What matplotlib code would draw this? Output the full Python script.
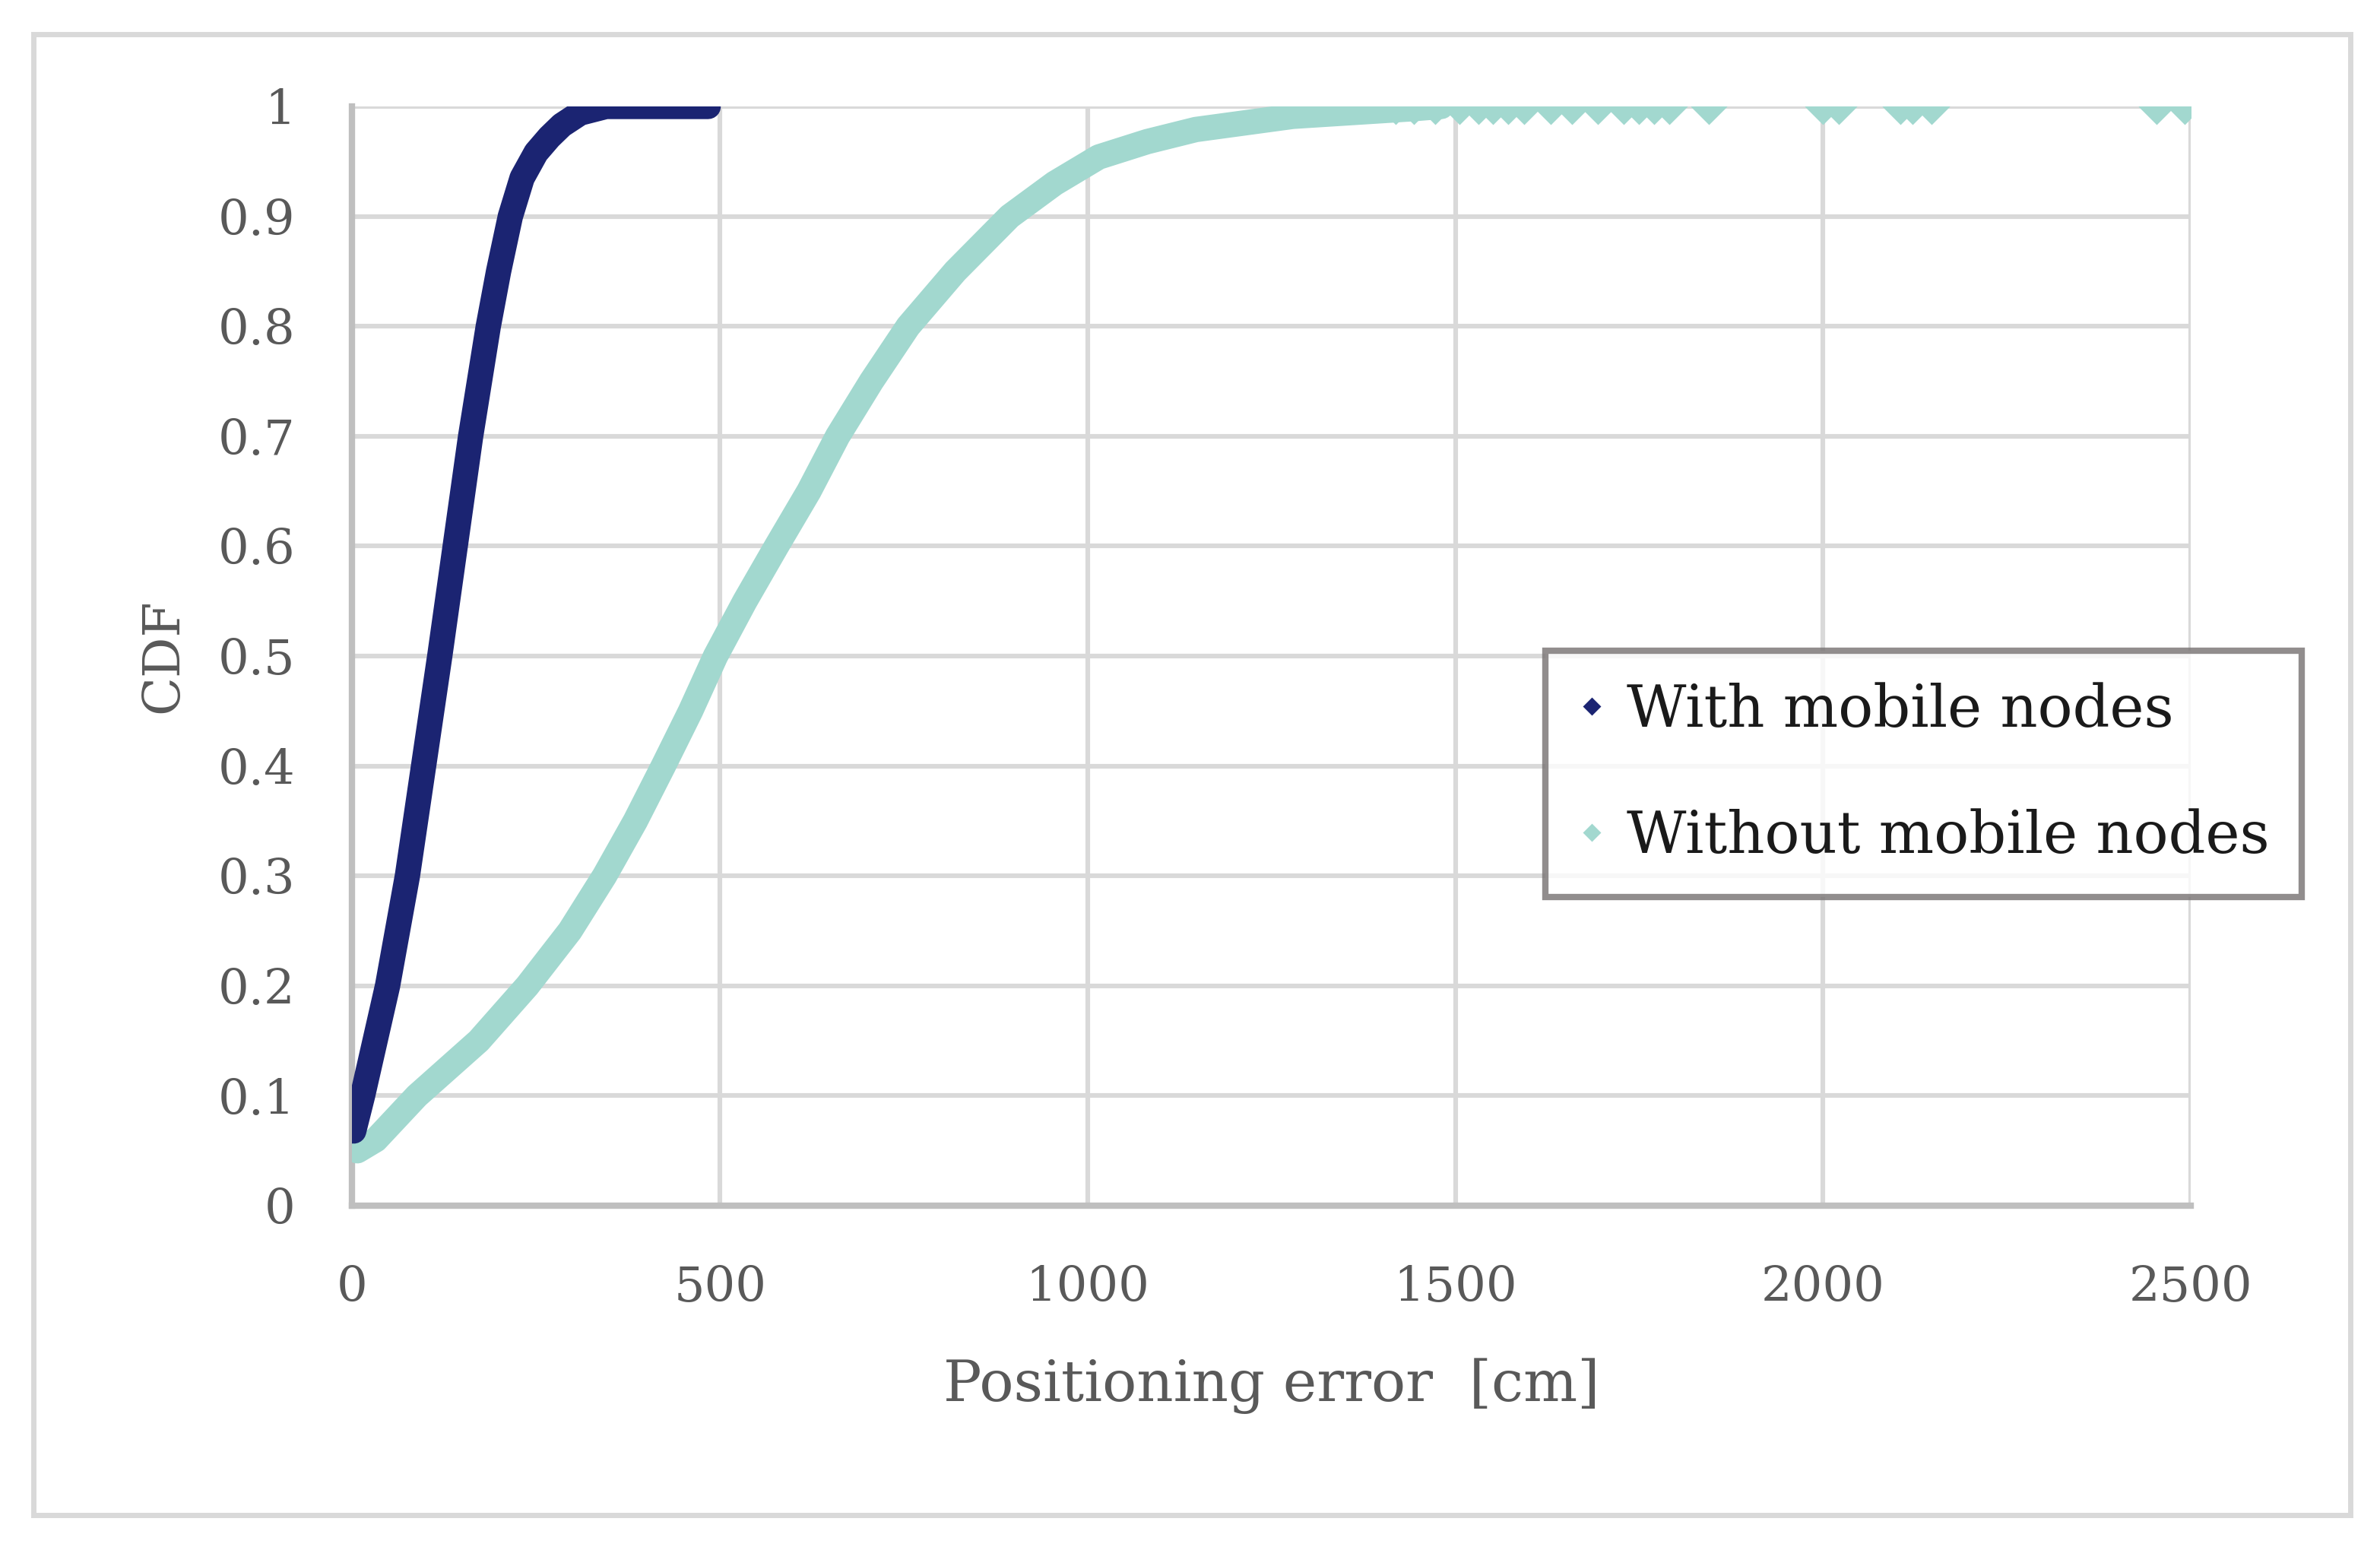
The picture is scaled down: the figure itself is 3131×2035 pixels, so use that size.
import matplotlib
matplotlib.use("Agg")
import matplotlib.pyplot as plt
from matplotlib.lines import Line2D
from matplotlib.patches import Rectangle

with_x = [2, 14, 48, 75, 97, 119, 140, 161, 185, 199, 215, 231, 250, 268, 285, 310, 345, 420, 484]
with_y = [0.068, 0.10, 0.20, 0.30, 0.40, 0.50, 0.60, 0.70, 0.80, 0.85, 0.90, 0.935, 0.958,
          0.972, 0.983, 0.994, 1.0, 1.0, 1.0]

without_x = [7, 32, 88, 172, 238, 296, 343, 385, 423, 460, 494, 534, 577, 621, 660, 706, 756,
             820, 894, 955, 1015, 1081, 1147, 1279, 1444, 1481]
without_y = [0.05, 0.06, 0.10, 0.15, 0.20, 0.25, 0.30, 0.35, 0.40, 0.45, 0.50, 0.55, 0.60,
             0.65, 0.70, 0.75, 0.80, 0.85, 0.90, 0.93, 0.954, 0.968, 0.979, 0.991, 0.998, 1.0]

# sparse tail points of the second series
tail_x = [1419, 1444, 1473, 1506, 1531, 1551, 1572, 1593, 1630, 1659, 1694, 1729, 1750, 1770,
          1791, 1845, 2000, 2021, 2105, 2122, 2147, 2453, 2492]
tail_y = [1.0] * len(tail_x)

xticks = [0, 500, 1000, 1500, 2000, 2500]
yticks = [0, 0.1, 0.2, 0.3, 0.4, 0.5, 0.6, 0.7, 0.8, 0.9, 1]
ytick_labels = ["0", "0.1", "0.2", "0.3", "0.4", "0.5", "0.6", "0.7", "0.8", "0.9", "1"]

navy = "#1b2472"
teal = "#a2d8cf"
txt = "#595959"

plt.rcParams["font.family"] = ["DejaVu Serif"]

fig = plt.figure(figsize=(15.655, 10.175), dpi=200)
ax = fig.add_axes([0.148, 0.2206, 0.7725, 0.7106])

ax.plot(without_x, without_y, color=teal, lw=12, solid_capstyle="round",
        solid_joinstyle="round", zorder=3)
ax.plot(tail_x, tail_y, "D", color=teal, ms=11, lw=0, zorder=3)
ax.plot(with_x, with_y, color=navy, lw=12, solid_capstyle="round",
        solid_joinstyle="round", zorder=4)

ax.set_xlim(0, 2500)
ax.set_ylim(0, 1)
ax.set_xticks(xticks)
ax.set_yticks(yticks)
ax.set_yticklabels(ytick_labels)
ax.grid(color="#d9d9d9", lw=2.2)
ax.set_axisbelow(True)
for s in ["top", "right"]:
    ax.spines[s].set_visible(False)
for s in ["left", "bottom"]:
    ax.spines[s].set_color("#bfbfbf")
    ax.spines[s].set_linewidth(3)
ax.tick_params(length=0, labelsize=23, labelcolor=txt)
ax.tick_params(axis="y", pad=27)
ax.tick_params(axis="x", pad=28)

ax.set_xlabel("Positioning error  [cm]", fontsize=27, color=txt, labelpad=22)
ax.set_ylabel("CDF", fontsize=24, color=txt, labelpad=14)

handles = [Line2D([], [], marker="D", color=navy, lw=0, ms=5),
           Line2D([], [], marker="D", color=teal, lw=0, ms=5)]
leg = ax.legend(handles, ["With mobile nodes", "Without mobile nodes"],
                loc="lower left", bbox_to_anchor=(0.649, 0.281), borderaxespad=0,
                fontsize=27.5, labelcolor="#1a1a1a",
                frameon=True, fancybox=False, handlelength=0.5, handletextpad=0.35,
                labelspacing=1.2, borderpad=0.55)
leg.get_frame().set_edgecolor("#767171")
leg.get_frame().set_linewidth(3)
leg.set_zorder(10)

fig.patches.append(Rectangle((0.014, 0.0206), 0.9735, 0.9574, transform=fig.transFigure,
                             fill=False, edgecolor="#d9d9d9", lw=2.5))

fig.savefig("out.png")
